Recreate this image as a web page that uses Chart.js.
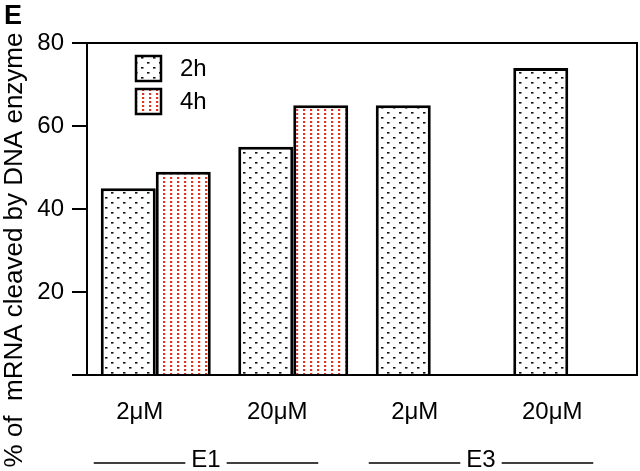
<!DOCTYPE html>
<html>
<head>
<meta charset="utf-8">
<script src="https://cdn.jsdelivr.net/npm/chart.js@4.4.0/dist/chart.umd.min.js"></script>
<style>
  html, body { margin: 0; padding: 0; background: #fff; }
  #wrap { position: relative; width: 640px; height: 471px; }
</style>
</head>
<body>
<div id="wrap"><canvas id="chart"></canvas></div>
<script>
// chart values
const concentrations = ['2\u03bcM', '20\u03bcM', '2\u03bcM', '20\u03bcM'];
const values2h = [45, 55, 65, 74];
const values4h = [49, 65, null, null];
const seriesNames = ['2h', '4h'];
const enzymeGroups = [{ label: 'E1', from: 0, to: 1 }, { label: 'E3', from: 2, to: 3 }];
const yTicks = [0, 20, 40, 60, 80];
const yTitle = '% of  mRNA cleaved by DNA enzyme';

const FONT = "'Liberation Sans', Arial, sans-serif";

// dotted fill like the printed figure
function dotPattern(tileW, tileH, dots, dotW, dotH, color) {
    var c = document.createElement('canvas');
    c.width = tileW;
    c.height = tileH;
    var g = c.getContext('2d');
    g.fillStyle = '#fff';
    g.fillRect(0, 0, tileW, tileH);
    g.fillStyle = color;
    dots.forEach(function (d) { g.fillRect(d[0], d[1], dotW, dotH); });
    return document.createElement('canvas').getContext('2d').createPattern(c, 'repeat');
}

const fill2h = dotPattern(12, 10, [[3, 2], [9, 7]], 2.5, 1.6, '#111');
const fill4h = dotPattern(7, 4, [[2, 1]], 2.2, 2, '#e0321e');

// frame around plot area (top and right sides) + rotated y title
const framePlugin = {
    id: 'frame',
    afterDraw(chart) {
        const a = chart.chartArea;
        const ctx = chart.ctx;
        ctx.save();
        ctx.strokeStyle = '#000';
        ctx.lineWidth = 2;
        ctx.beginPath();
        ctx.moveTo(a.left, a.top);
        ctx.lineTo(a.right, a.top);
        ctx.lineTo(a.right, a.bottom);
        ctx.stroke();

        ctx.translate(15, 250);
        ctx.rotate(-Math.PI / 2);
        ctx.font = '26px ' + FONT;
        ctx.fillStyle = '#000';
        ctx.textAlign = 'center';
        ctx.textBaseline = 'middle';
        ctx.fillText(yTitle, 0, 0);
        ctx.restore();
    }
};

// legend boxes inside the plot
const boxLegendPlugin = {
    id: 'boxLegend',
    afterDraw(chart) {
        const ctx = chart.ctx;
        const a = chart.chartArea;
        ctx.save();
        chart.data.datasets.forEach(function (ds, i) {
            const x = a.left + 49, y = a.top + 13 + i * 33, s = 25;
            ctx.fillStyle = ds.backgroundColor;
            ctx.fillRect(x, y, s, s);
            ctx.strokeStyle = '#000';
            ctx.lineWidth = 2.5;
            ctx.strokeRect(x, y, s, s);
            ctx.fillStyle = '#000';
            ctx.font = '24px ' + FONT;
            ctx.textBaseline = 'middle';
            ctx.fillText(ds.label, x + s + 19, y + s / 2 + 1);
        });
        ctx.restore();
    }
};

// E1 / E3 labels with lines under the categories
const groupPlugin = {
    id: 'groups',
    afterDraw(chart) {
        const ctx = chart.ctx;
        const xs = chart.scales.x;
        const y = 460;
        ctx.save();
        ctx.font = '24px ' + FONT;
        ctx.fillStyle = '#000';
        ctx.strokeStyle = '#000';
        ctx.lineWidth = 1.5;
        ctx.textAlign = 'center';
        ctx.textBaseline = 'middle';
        enzymeGroups.forEach(function (g) {
            const x0 = xs.getPixelForValue(g.from) - 62;
            const x1 = xs.getPixelForValue(g.to) + 25;
            const mid = (x0 + x1) / 2;
            const tw = ctx.measureText(g.label).width / 2 + 6;
            ctx.beginPath();
            ctx.moveTo(x0, y + 3);
            ctx.lineTo(mid - tw, y + 3);
            ctx.moveTo(mid + tw, y + 3);
            ctx.lineTo(x1, y + 3);
            ctx.stroke();
            ctx.fillText(g.label, mid, y);
        });
        ctx.restore();
    }
};

new Chart(document.getElementById('chart'), {
    type: 'bar',
    data: {
        labels: concentrations,
        datasets: [
            { label: seriesNames[0], data: values2h, backgroundColor: fill2h, borderColor: '#000', borderWidth: 3 },
            { label: seriesNames[1], data: values4h, backgroundColor: fill4h, borderColor: '#000', borderWidth: 3 }
        ]
    },
    plugins: [framePlugin, boxLegendPlugin, groupPlugin],
    options: {
        responsive: true,
        maintainAspectRatio: false,
        animation: false,
        layout: { padding: { top: 43, right: 3, bottom: 0, left: 0 } },
        datasets: { bar: { categoryPercentage: 0.8, barPercentage: 1.0 } },
        plugins: { legend: { display: false }, tooltip: { enabled: false } },
        scales: {
            x: {
                grid: { display: false, drawTicks: false },
                border: { color: '#000', width: 2 },
                ticks: { color: '#000', font: { family: FONT, size: 24 }, padding: 23, labelOffset: -16, maxRotation: 0 },
                afterFit(scale) { scale.height = 96; }
            },
            y: {
                min: 0,
                max: 80,
                afterBuildTicks(scale) { scale.ticks = yTicks.map(v => ({ value: v })); },
                grid: { drawOnChartArea: false, tickLength: 15, color: '#000', lineWidth: 2 },
                border: { color: '#000', width: 2 },
                ticks: {
                    color: '#000',
                    font: { family: FONT, size: 24 },
                    padding: 8,
                    callback: v => v === 0 ? '' : v
                },
                afterFit(scale) { scale.width = 87; }
            }
        }
    }
});

// panel letter
const panel = document.createElement('div');
panel.textContent = 'E';
panel.style.cssText = "position:absolute;left:4px;top:0px;font:bold 27px 'Liberation Sans',Arial,sans-serif;color:#000;line-height:30px;";
document.getElementById('wrap').appendChild(panel);
</script>
</body>
</html>
